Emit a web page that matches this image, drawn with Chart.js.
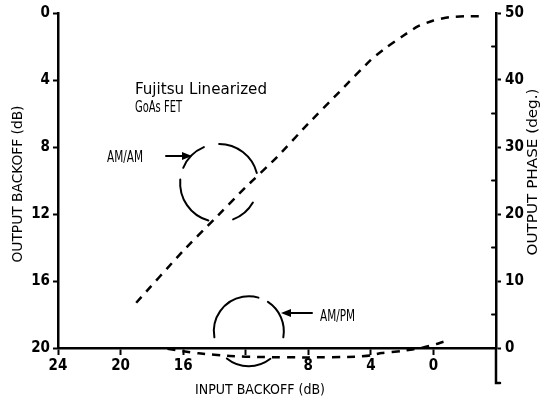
<!DOCTYPE html>
<html>
<head>
<meta charset="utf-8">
<script src="https://cdn.jsdelivr.net/npm/chart.js@4.4.1/dist/chart.umd.min.js"></script>
<style>
  html, body { margin: 0; padding: 0; background: #fff; }
  #chart { display: block; }
</style>
</head>
<body>
<canvas id="chart" width="546" height="399"></canvas>
<script>
// Valores
const inputAmAm = [19, 16, 14, 12, 10, 8, 6, 4, 3, 2, 1, 0, -1, -2, -2.9];
const outputBackoff = [17.3, 14.2, 12.3, 10.4, 8.6, 6.6, 4.7, 2.8, 2.05, 1.4, 0.8, 0.45, 0.25, 0.2, 0.2];
const inputAmPm = [17, 16, 15, 13, 11, 8, 5, 4, 3.3, 2, 0.7, -0.2, -1];
const outputPhase = [-0.1, -0.5, -0.8, -1.2, -1.35, -1.4, -1.3, -1.1, -0.75, -0.45, 0.05, 0.6, 1.2];
const inputTicks = [24, 20, 16, 12, 8, 4, 0];
const inputLabels = ['24', '20', '16', '', '8', '4', '0'];
const backoffTicks = [0, 4, 8, 12, 16, 20];
const phaseTicks = [0, 10, 20, 30, 40, 50];
const phaseMinorTicks = [5, 15, 25, 35, 45];

const FONT = '"DejaVu Sans Condensed", "Liberation Sans Narrow", "DejaVu Sans", sans-serif';

// Texto ajustado a uma largura
function fitText(ctx, text, cx, cy, width, size, rot, align) {
    ctx.save();
    ctx.font = size + 'px ' + FONT;
    const w = ctx.measureText(text).width;
    ctx.translate(cx, cy);
    if (rot) ctx.rotate(rot);
    ctx.scale(width / w, 1);
    ctx.textAlign = align || 'center';
    ctx.textBaseline = 'middle';
    ctx.fillText(text, 0, 0);
    ctx.restore();
}

function arcs(ctx, cx, cy, r, parts) {
    parts.forEach(p => {
        ctx.beginPath();
        ctx.arc(cx, cy, r, p[0] * Math.PI / 180, p[1] * Math.PI / 180);
        ctx.stroke();
    });
}

function arrow(ctx, x1, y, x2) {
    const dir = x2 > x1 ? 1 : -1;
    ctx.beginPath();
    ctx.moveTo(x1, y);
    ctx.lineTo(x2 - dir * 6, y);
    ctx.stroke();
    ctx.beginPath();
    ctx.moveTo(x2, y);
    ctx.lineTo(x2 - dir * 10, y - 4);
    ctx.lineTo(x2 - dir * 10, y + 4);
    ctx.closePath();
    ctx.fill();
}

const annotationsPlugin = {
    id: 'annotations',
    afterDraw(chart) {
        const ctx = chart.ctx;
        const x = chart.scales.x;
        const yL = chart.scales.yBackoff;
        const yR = chart.scales.yPhase;
        const area = chart.chartArea;
        ctx.save();
        ctx.fillStyle = '#000';
        ctx.strokeStyle = '#000';
        ctx.lineCap = 'round';

        // marcas menores do eixo direito (para dentro)
        ctx.lineWidth = 2;
        phaseMinorTicks.forEach(v => {
            const py = yR.getPixelForValue(v);
            ctx.beginPath();
            ctx.moveTo(area.right, py);
            ctx.lineTo(area.right - 4, py);
            ctx.stroke();
        });
        // eixo direito prolongado para baixo
        ctx.lineWidth = 2.5;
        ctx.beginPath();
        ctx.moveTo(area.right, area.bottom);
        ctx.lineTo(area.right, area.bottom + 35);
        ctx.lineTo(area.right + 4, area.bottom + 35);
        ctx.stroke();

        // títulos dos eixos
        fitText(ctx, 'OUTPUT BACKOFF (dB)', 18, 184, 157, 14, -Math.PI / 2);
        fitText(ctx, 'OUTPUT PHASE (deg.)', 533, 172, 167, 14, -Math.PI / 2);
        fitText(ctx, 'INPUT BACKOFF (dB)', 260, 390, 130, 14, 0);

        // anotações
        fitText(ctx, 'Fujitsu Linearized', 135, 90, 132, 15, 0, 'left');
        fitText(ctx, 'GoAs FET', 135, 108, 47, 15, 0, 'left');
        fitText(ctx, 'AM/AM', 107, 158, 36, 15, 0, 'left');
        fitText(ctx, 'AM/PM', 320, 317, 35, 15, 0, 'left');

        // círculos
        ctx.lineWidth = 2;
        arcs(ctx, x.getPixelForValue(13.7), yL.getPixelForValue(10.15), 39,
            [[-157, -113], [-90, -15], [30, 69], [106, 185]]);
        arcs(ctx, x.getPixelForValue(11.8), yR.getPixelForValue(2.5), 35,
            [[170, 286], [303, 370], [52, 129]]);

        // setas
        ctx.lineWidth = 2;
        arrow(ctx, 166, 156, 192);
        arrow(ctx, 312, 313, 281);
        ctx.restore();
    }
};

const ctx = document.getElementById('chart').getContext('2d');
new Chart(ctx, {
    type: 'scatter',
    data: {
        datasets: [{
            label: 'AM/AM',
            data: inputAmAm.map((v, i) => ({ x: v, y: outputBackoff[i] })),
            yAxisID: 'yBackoff',
            showLine: true,
            borderColor: '#000',
            borderWidth: 2.5,
            borderDash: [8, 7],
            pointRadius: 0,
            tension: 0.2,
            clip: false
        }, {
            label: 'AM/PM',
            data: inputAmPm.map((v, i) => ({ x: v, y: outputPhase[i] })),
            yAxisID: 'yPhase',
            showLine: true,
            borderColor: '#000',
            borderWidth: 2.5,
            borderDash: [8, 7],
            pointRadius: 0,
            tension: 0.2,
            clip: false
        }]
    },
    options: {
        responsive: false,
        animation: false,
        layout: { padding: { top: 13, left: 0, right: 0, bottom: 0 } },
        plugins: {
            legend: { display: false },
            tooltip: { enabled: false }
        },
        scales: {
            x: {
                type: 'linear',
                reverse: true,
                min: -4,
                max: 24,
                afterBuildTicks: s => { s.ticks = inputTicks.map(v => ({ value: v })); },
                afterFit: s => { s.height = 51; },
                border: { display: true, color: '#000', width: 2.5 },
                grid: { display: true, drawOnChartArea: false, drawTicks: true, tickLength: 7, tickWidth: 2, color: '#000' },
                ticks: {
                    color: '#000', padding: 2, maxRotation: 0,
                    font: { family: FONT, size: 15, weight: 'bold' },
                    callback: (v, i) => inputLabels[i]
                }
            },
            yBackoff: {
                type: 'linear',
                position: 'left',
                reverse: true,
                min: 0,
                max: 20,
                afterBuildTicks: s => { s.ticks = backoffTicks.map(v => ({ value: v })); },
                afterFit: s => { s.width = 58; },
                border: { display: true, color: '#000', width: 2.5 },
                grid: { display: true, drawOnChartArea: false, drawTicks: true, tickLength: 5, tickWidth: 2, color: '#000' },
                ticks: { color: '#000', padding: 3, font: { family: FONT, size: 15, weight: 'bold' } }
            },
            yPhase: {
                type: 'linear',
                position: 'right',
                min: 0,
                max: 50,
                afterBuildTicks: s => { s.ticks = phaseTicks.map(v => ({ value: v })); },
                afterFit: s => { s.width = 50; },
                border: { display: true, color: '#000', width: 2.5 },
                grid: { display: true, drawOnChartArea: false, drawTicks: true, tickLength: 5, tickWidth: 2, color: '#000' },
                ticks: { color: '#000', padding: 4, font: { family: FONT, size: 15, weight: 'bold' } }
            }
        }
    },
    plugins: [annotationsPlugin]
});
</script>
</body>
</html>
